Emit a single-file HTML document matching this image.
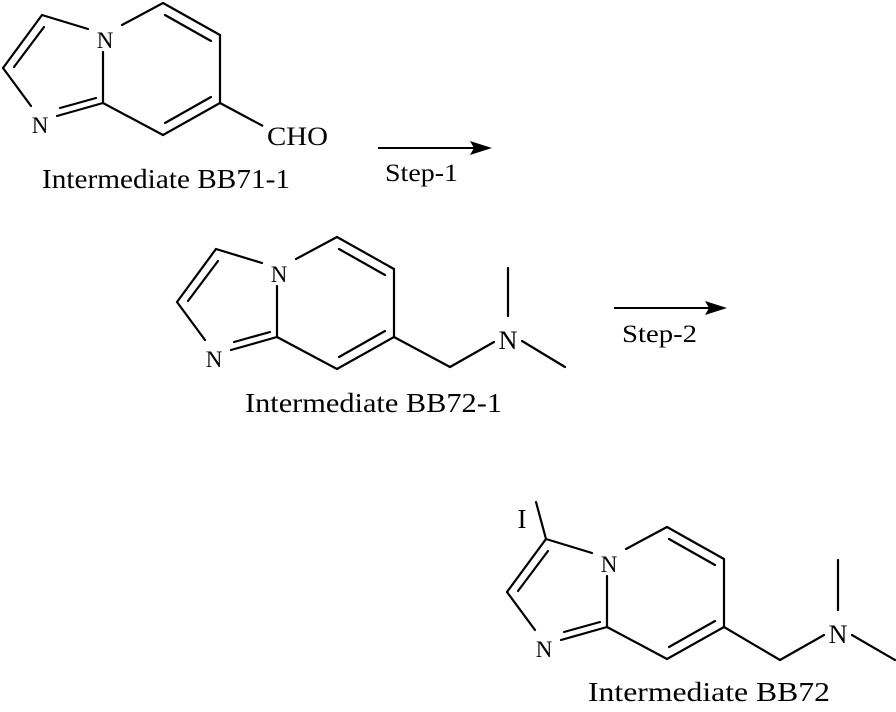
<!DOCTYPE html>
<html><head><meta charset="utf-8"><style>
html,body{margin:0;padding:0;background:#fff;}
svg{display:block;}
text{font-family:"Liberation Serif",serif;fill:#000;}
</style></head><body>
<svg width="896" height="712" viewBox="0 0 896 712" xmlns="http://www.w3.org/2000/svg">
<defs>
<g id="core" stroke="#000" stroke-width="2.2" fill="none" stroke-linecap="round">
  <line x1="42" y1="15" x2="3" y2="68"/>
  <line x1="44" y1="27" x2="14" y2="67"/>
  <line x1="42" y1="15" x2="88" y2="29"/>
  <line x1="3" y1="68" x2="31" y2="106"/>
  <line x1="57" y1="116" x2="103" y2="103"/>
  <line x1="60" y1="108" x2="96" y2="98"/>
  <line x1="103" y1="52" x2="103" y2="103"/>
  <line x1="122" y1="25" x2="163" y2="3"/>
  <line x1="163" y1="3" x2="220" y2="35"/>
  <line x1="165" y1="15" x2="211" y2="41"/>
  <line x1="220" y1="35" x2="220" y2="103"/>
  <line x1="220" y1="103" x2="163" y2="135"/>
  <line x1="211" y1="97" x2="165" y2="123"/>
  <line x1="163" y1="135" x2="103" y2="103"/>
</g>
</defs>

<!-- Molecule 1 -->
<use href="#core"/>
<line x1="220" y1="103" x2="263" y2="126" stroke="#000" stroke-width="2.2"/>
<text x="105" y="48" font-size="23" text-anchor="middle">N</text>
<text x="40" y="133" font-size="23" text-anchor="middle">N</text>
<text x="267" y="145" font-size="26" textLength="61" lengthAdjust="spacingAndGlyphs">CHO</text>
<text x="42" y="188" font-size="27" textLength="248" lengthAdjust="spacingAndGlyphs">Intermediate BB71-1</text>

<!-- Arrow 1 -->
<line x1="378" y1="148" x2="475" y2="148" stroke="#000" stroke-width="2"/>
<polygon points="492,148 470,141 474,148 470,155" fill="#000"/>
<text x="385" y="181" font-size="25" textLength="73" lengthAdjust="spacingAndGlyphs">Step-1</text>

<!-- Molecule 2 -->
<g transform="translate(174,234)">
  <use href="#core"/>
  <text x="105" y="48" font-size="23" text-anchor="middle">N</text>
  <text x="40" y="133" font-size="23" text-anchor="middle">N</text>
  <g stroke="#000" stroke-width="2.2" stroke-linecap="round">
    <line x1="220" y1="103" x2="276" y2="133"/>
    <line x1="276" y1="133" x2="320" y2="108"/>
    <line x1="334" y1="82" x2="334" y2="34"/>
    <line x1="348" y1="107" x2="391" y2="133"/>
  </g>
  <text x="334" y="115" font-size="26" text-anchor="middle">N</text>
</g>
<text x="245" y="412" font-size="27" textLength="257" lengthAdjust="spacingAndGlyphs">Intermediate BB72-1</text>

<!-- Arrow 2 -->
<line x1="614" y1="308" x2="710" y2="308" stroke="#000" stroke-width="2"/>
<polygon points="727,308 705,301 709,308 705,315" fill="#000"/>
<text x="622" y="342" font-size="25" textLength="75" lengthAdjust="spacingAndGlyphs">Step-2</text>

<!-- Molecule 3 -->
<g transform="translate(504,524)">
  <use href="#core"/>
  <text x="105" y="48" font-size="23" text-anchor="middle">N</text>
  <text x="40" y="133" font-size="23" text-anchor="middle">N</text>
  <g stroke="#000" stroke-width="2.2" stroke-linecap="round">
    <line x1="42" y1="15" x2="32" y2="-22"/>
    <line x1="220" y1="103" x2="276" y2="136"/>
    <line x1="276" y1="136" x2="320" y2="111"/>
    <line x1="334" y1="86" x2="334" y2="36"/>
    <line x1="348" y1="111" x2="391" y2="136"/>
  </g>
  <text x="334" y="119" font-size="26" text-anchor="middle">N</text>
</g>
<text x="522" y="528" font-size="27" text-anchor="middle">I</text>
<text x="588" y="701" font-size="27" textLength="242" lengthAdjust="spacingAndGlyphs">Intermediate BB72</text>
</svg>
</body></html>
